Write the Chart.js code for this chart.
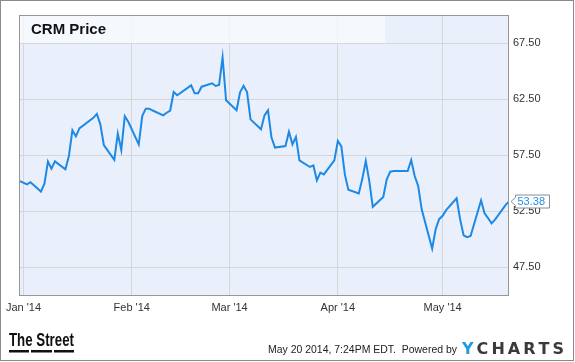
<!DOCTYPE html>
<html><head><meta charset="utf-8">
<script src="https://cdn.jsdelivr.net/npm/chart.js@4.4.1/dist/chart.umd.min.js"></script>
<style>html,body{margin:0;padding:0;background:#fff;overflow:hidden}#wrap{position:relative;width:575px;height:362px}</style>
</head><body><div id="wrap"><canvas id="c" width="575" height="362"></canvas></div>
<script>
const chartTitle = 'CRM Price';
const dates = [
'2013-12-31','2014-01-02','2014-01-03','2014-01-06','2014-01-07','2014-01-08','2014-01-09','2014-01-10',
'2014-01-13','2014-01-14','2014-01-15','2014-01-16','2014-01-17','2014-01-21','2014-01-22','2014-01-23',
'2014-01-24','2014-01-27','2014-01-28','2014-01-29','2014-01-30','2014-01-31','2014-02-03','2014-02-04',
'2014-02-05','2014-02-06','2014-02-07','2014-02-10','2014-02-11','2014-02-12','2014-02-13','2014-02-14',
'2014-02-18','2014-02-19','2014-02-20','2014-02-21','2014-02-24','2014-02-25','2014-02-26','2014-02-27',
'2014-02-28','2014-03-03','2014-03-04','2014-03-05','2014-03-06','2014-03-07','2014-03-10','2014-03-11',
'2014-03-12','2014-03-13','2014-03-14','2014-03-17','2014-03-18','2014-03-19','2014-03-20','2014-03-21',
'2014-03-24','2014-03-25','2014-03-26','2014-03-27','2014-03-28','2014-03-31','2014-04-01','2014-04-02',
'2014-04-03','2014-04-04','2014-04-07','2014-04-08','2014-04-09','2014-04-10','2014-04-11','2014-04-14',
'2014-04-15','2014-04-16','2014-04-17','2014-04-21','2014-04-22','2014-04-23','2014-04-24','2014-04-25',
'2014-04-28','2014-04-29','2014-04-30','2014-05-01','2014-05-02','2014-05-05','2014-05-06','2014-05-07',
'2014-05-08','2014-05-09','2014-05-12','2014-05-13','2014-05-14','2014-05-15','2014-05-16','2014-05-19',
'2014-05-20'];
const prices = [
55.2,54.9,55.1,54.26,54.97,56.94,56.3,56.96,
56.25,57.44,59.73,59.2,59.9,60.85,61.2,60.27,
58.42,57.1,59.44,57.97,61.0,60.5,58.48,61.0,
61.67,61.67,61.5,61.07,61.3,61.5,63.15,62.86,
63.75,63.04,63.04,63.63,63.93,63.69,63.78,66.25,
62.41,61.53,63.12,63.7,63.15,60.71,59.82,61.07,
61.52,59.08,58.19,58.33,59.61,58.48,59.14,57.05,
56.46,56.6,55.27,55.95,55.8,57.05,58.78,58.3,
55.8,54.43,54.1,55.4,57.0,55.2,52.9,53.78,
55.36,56.04,56.1,56.1,57.08,55.65,54.76,52.68,
49.17,50.9,51.8,52.1,52.6,53.66,51.8,50.36,
50.2,50.3,53.48,52.32,51.9,51.43,51.76,53.06,
53.38];
const xTickDays = [0, 31, 59, 90, 120];
const xTickLabels = ["Jan '14", "Feb '14", "Mar '14", "Apr '14", "May '14"];
const yTickValues = [47.5, 52.5, 57.5, 62.5, 67.5];
const footerDate = 'May 20 2014, 7:24PM EDT.  Powered by';
const brandLeft = 'The Street';
const brandRight = 'YCHARTS';

const FONT = "'Liberation Sans', Arial, sans-serif";
const epoch = Date.UTC(2014, 0, 1);
function dayOf(s) { const p = s.split('-').map(Number); return (Date.UTC(p[0], p[1]-1, p[2]) - epoch) / 86400000; }
const points = dates.map((d, i) => ({ x: dayOf(d), y: prices[i] }));

const deco = {
  id: 'deco',
  beforeDraw(chart) {
    const { ctx, chartArea: a } = chart;
    ctx.save();
    ctx.fillStyle = '#ffffff';
    ctx.fillRect(0, 0, chart.width, chart.height);
    ctx.fillStyle = '#eaf0fb';
    ctx.fillRect(a.left, a.top, a.right - a.left, a.bottom - a.top);
    ctx.restore();
  },
  beforeDatasetsDraw(chart) {
    const { ctx, chartArea: a } = chart;
    const yb = Math.round(chart.scales.y.getPixelForValue(67.5));
    ctx.save();
    ctx.fillStyle = 'rgba(250,252,255,0.72)';
    ctx.fillRect(a.left, a.top, 385 - a.left, yb - a.top);
    ctx.fillStyle = '#111';
    ctx.font = 'bold 15px ' + FONT;
    ctx.textBaseline = 'alphabetic';
    ctx.fillText(chartTitle, 31, 34);
    ctx.restore();
  },
  afterDraw(chart) {
    const { ctx, chartArea: a } = chart;
    ctx.save();
    // plot frame
    ctx.strokeStyle = '#979797';
    ctx.lineWidth = 1;
    ctx.strokeRect(Math.round(a.left) - 0.5, Math.round(a.top) + 0.5, Math.round(a.right - a.left), Math.round(a.bottom - a.top) - 1);
    // outer frame
    ctx.strokeStyle = '#8a8a8a';
    ctx.strokeRect(0.5, 0.5, 573, 360);
    // last value label
    const last = prices[prices.length - 1];
    const py = Math.round(chart.scales.y.getPixelForValue(last)) + 0.5;
    const bx = 515.5, bw = 34, bh = 13;
    ctx.beginPath();
    ctx.moveTo(bx, py - bh / 2);
    ctx.lineTo(bx + bw, py - bh / 2);
    ctx.lineTo(bx + bw, py + bh / 2);
    ctx.lineTo(bx, py + bh / 2);
    ctx.lineTo(bx, py + 4);
    ctx.lineTo(bx - 4.5, py);
    ctx.lineTo(bx, py - 4);
    ctx.closePath();
    ctx.fillStyle = '#fff';
    ctx.fill();
    ctx.strokeStyle = '#8c8c8c';
    ctx.stroke();
    ctx.fillStyle = '#2190e8';
    ctx.font = '11px ' + FONT;
    ctx.textBaseline = 'middle';
    ctx.fillText(last.toFixed(2), 517.5, py);
    // footer left brand
    ctx.textBaseline = 'alphabetic';
    ctx.font = 'bold 18px ' + FONT;
    const tw = ctx.measureText(brandLeft).width;
    ctx.save();
    ctx.translate(9, 345.5);
    ctx.scale(65 / tw, 1);
    ctx.fillStyle = '#111';
    ctx.fillText(brandLeft, 0, 0);
    ctx.restore();
    ctx.fillStyle = '#111';
    ctx.fillRect(9, 350, 20, 2.5);
    ctx.fillRect(31, 350, 21, 2.5);
    ctx.fillRect(54, 350, 20, 2.5);
    // footer date
    ctx.font = '11px ' + FONT;
    ctx.fillStyle = '#222';
    ctx.fillText(footerDate, 268, 353, 189);
    // YCHARTS
    ctx.font = "bold 16px 'DejaVu Sans', " + FONT;
    const chars = brandRight.split('');
    const widths = chars.map(c => ctx.measureText(c).width);
    const total = widths.reduce((s, w) => s + w, 0);
    const sp = (102 - total) / (chars.length - 1);
    let x = 462;
    chars.forEach((c, i) => {
      ctx.fillStyle = i === 0 ? '#1e9ddb' : '#3a3a3a';
      ctx.fillText(c, x, 354);
      x += widths[i] + sp;
    });
    ctx.restore();
  }
};

new Chart(document.getElementById('c'), {
  type: 'line',
  data: { datasets: [{ data: points, borderColor: '#1d89e6', borderWidth: 2, pointRadius: 0, tension: 0, fill: false }] },
  options: {
    responsive: false, animation: false, devicePixelRatio: 1,
    layout: { padding: { left: 20, top: 15, right: 0, bottom: 0 } },
    plugins: { legend: { display: false }, tooltip: { enabled: false } },
    scales: {
      x: {
        type: 'linear', position: 'bottom', min: -1, max: 139,
        afterFit(s) { s.height = 66; },
        afterBuildTicks(s) { s.ticks = xTickDays.map(v => ({ value: v })); },
        ticks: { callback: (v, i) => xTickLabels[i], color: '#333', font: { family: FONT, size: 11 }, padding: 5, autoSkip: false, maxRotation: 0 },
        grid: { color: '#d6d6d6', drawTicks: false },
        border: { display: false }
      },
      y: {
        position: 'right', min: 44.94, max: 70.03,
        afterFit(s) { s.width = 66; },
        afterBuildTicks(s) { s.ticks = yTickValues.map(v => ({ value: v })); },
        ticks: { callback: v => Number(v).toFixed(2), color: '#333', font: { family: FONT, size: 11 }, padding: 4 },
        grid: { color: '#d6d6d6', drawTicks: false },
        border: { display: false }
      }
    }
  },
  plugins: [deco]
});
</script></body></html>
